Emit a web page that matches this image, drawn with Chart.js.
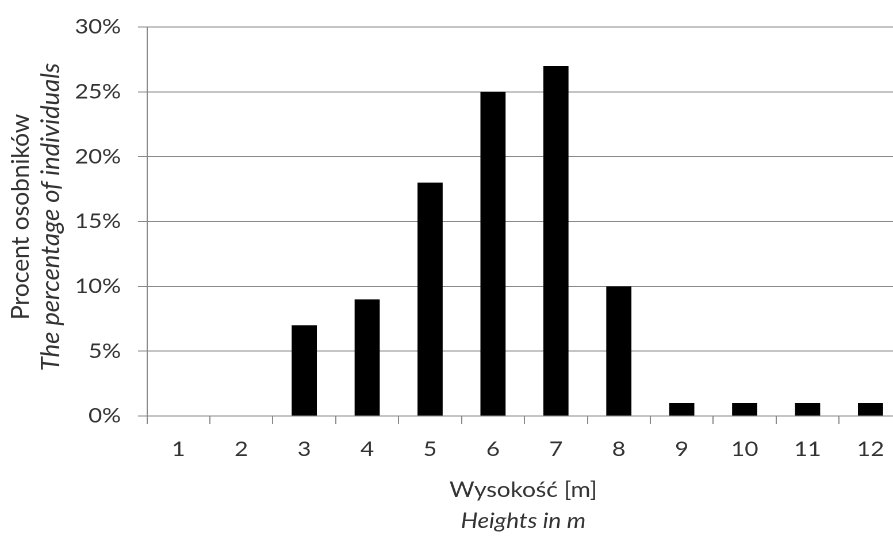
<!DOCTYPE html>
<html>
<head>
<meta charset="utf-8">
<script src="https://cdn.jsdelivr.net/npm/chart.js@4.4.1/dist/chart.umd.min.js"></script>
<style>
  html, body { margin: 0; padding: 0; background: #fff; overflow: hidden; width: 893px; height: 537px; }
  #wrap { position: absolute; left: 0; top: 0; width: 800px; height: 537px; transform: scaleX(1.15); transform-origin: 0 0; }
</style>
</head>
<body>
<div id="wrap"><canvas id="c"></canvas></div>
<script>
const categories = ['1', '2', '3', '4', '5', '6', '7', '8', '9', '10', '11', '12'];
const percentValues = [0, 0, 7, 9, 18, 25, 27, 10, 1, 1, 1, 1];
const yTicks = [0, 5, 10, 15, 20, 25, 30];
const yTitleLines = ['Procent osobników', 'The percentage of individuals'];
const xTitleLines = ['Wysokość [m]', 'Heights in m'];

const STRETCH = 1.15;
const TEXT = '#333333';
const GRID = '#8a8a8a';
const FONT = 'Lato';

const titlesPlugin = {
  id: 'titles',
  afterDraw(chart) {
    const ctx = chart.ctx;
    const area = chart.chartArea;
    ctx.save();
    ctx.fillStyle = TEXT;
    ctx.textAlign = 'center';
    ctx.textBaseline = 'middle';
    const cx = (area.left + area.right) / 2 - 1;
    ctx.font = '21px ' + FONT;
    ctx.fillText(xTitleLines[0], cx, 490);
    ctx.font = 'italic 21px ' + FONT;
    ctx.fillText(xTitleLines[1], cx, 521);
    ctx.restore();

    ctx.save();
    ctx.fillStyle = TEXT;
    ctx.textAlign = 'center';
    ctx.textBaseline = 'middle';
    ctx.scale(1 / STRETCH, 1);
    ctx.translate(0, 217);
    ctx.rotate(-Math.PI / 2);
    ctx.font = '24.5px ' + FONT;
    ctx.fillText(yTitleLines[0], 0, 21);
    ctx.font = 'italic 25.5px ' + FONT;
    ctx.fillText(yTitleLines[1], 0, 51);
    ctx.restore();
  }
};

new Chart(document.getElementById('c'), {
  type: 'bar',
  data: {
    labels: categories,
    datasets: [{
      data: percentValues,
      backgroundColor: '#000000',
      borderWidth: 0,
      categoryPercentage: 1.0,
      barPercentage: 0.4
    }]
  },
  options: {
    responsive: true,
    maintainAspectRatio: false,
    animation: false,
    devicePixelRatio: 2,
    layout: { padding: { left: 0, right: 15.7, top: 22.7, bottom: 0 } },
    plugins: { legend: { display: false }, tooltip: { enabled: false } },
    scales: {
      x: {
        grid: { display: true, drawOnChartArea: false, drawTicks: true, tickLength: 8, color: GRID, lineWidth: 1, offset: true },
        border: { display: true, color: GRID, width: 1 },
        ticks: { color: TEXT, font: { family: FONT, size: 20.5 }, padding: 13, maxRotation: 0, autoSkip: false },
        afterFit(scale) { scale.height = 121; }
      },
      y: {
        min: 0, max: 30,
        afterBuildTicks(scale) { scale.ticks = yTicks.map(v => ({ value: v })); },
        grid: { display: true, drawTicks: true, tickLength: 7.8, color: GRID, lineWidth: 1 },
        border: { display: true, color: GRID, width: 1 },
        ticks: { color: TEXT, font: { family: FONT, size: 20.5 }, padding: 14.8, callback: v => v + '%' },
        afterFit(scale) { scale.width = 127.8; }
      }
    }
  },
  plugins: [titlesPlugin]
});
</script>
</body>
</html>
